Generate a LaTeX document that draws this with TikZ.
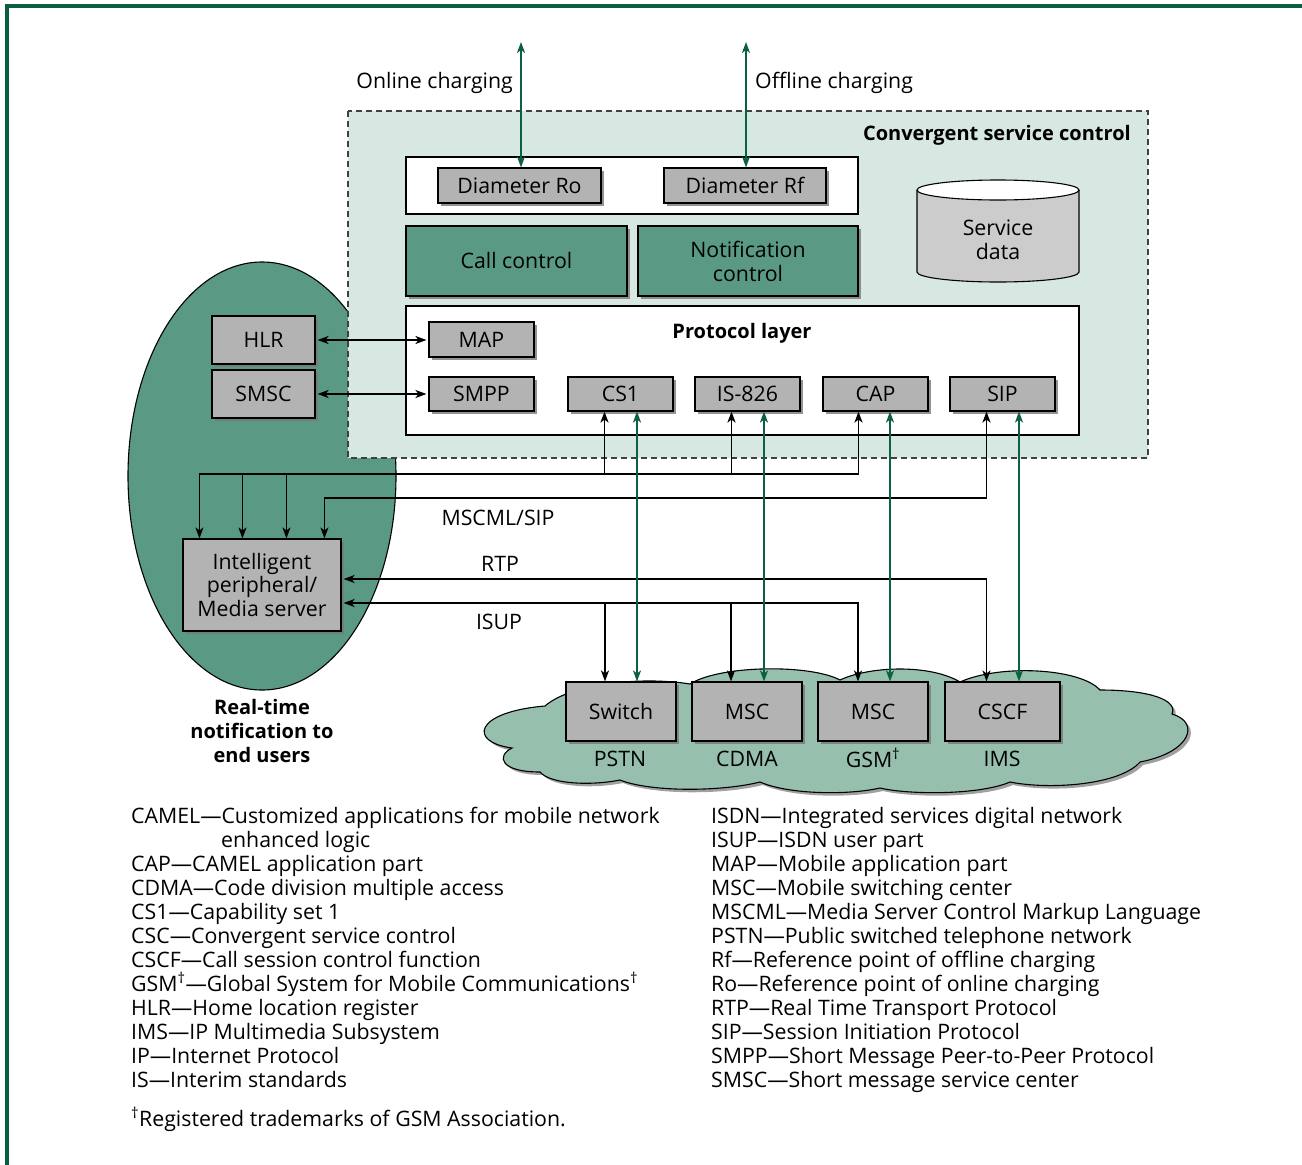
\documentclass[tikz,border=0pt]{standalone}
\usepackage{fontspec}
\setmainfont{Open Sans}
\usetikzlibrary{arrows.meta,shadows,calc}
\definecolor{bordergreen}{RGB}{12,94,64}
\definecolor{arrgreen}{RGB}{10,96,64}
\definecolor{cscfill}{RGB}{215,231,225}
\definecolor{midgreen}{RGB}{90,154,132}
\definecolor{boxgray}{RGB}{179,179,179}
\definecolor{cylgray}{RGB}{204,204,204}
\definecolor{cloudfill}{RGB}{150,191,174}
\definecolor{shadowgray}{RGB}{120,120,120}
\newcommand\fsz{\fontsize{21.3}{24}\selectfont}
\newcommand\fszb{\fontsize{20}{24}\selectfont\bfseries}
\newcommand\fszl{\fontsize{21.3}{24}\selectfont}
\newcommand\myCloudPath{(545,706) .. controls (570,684) and (640,676) .. (690,684)
 .. controls (720,665) and (810,664) .. (840,680)
 .. controls (870,666) and (930,664) .. (960,682)
 .. controls (1000,664) and (1080,668) .. (1100,690)
 .. controls (1150,690) and (1178,700) .. (1172,714)
 .. controls (1200,722) and (1192,752) .. (1140,762)
 .. controls (1120,785) and (1050,790) .. (1010,782)
 .. controls (980,795) and (910,795) .. (880,788)
 .. controls (850,795) and (790,795) .. (760,782)
 .. controls (720,792) and (650,792) .. (620,780)
 .. controls (590,786) and (550,784) .. (540,772)
 .. controls (500,772) and (496,756) .. (512,748)
 .. controls (468,742) and (474,712) .. cycle}
\tikzset{
  myTip/.tip={Stealth[length=11pt,width=8pt,inset=3pt]},
  gbox/.style={draw, line width=1.1pt, fill=boxgray, font=\fsz, inner sep=1pt,
    drop shadow={shadow xshift=3pt, shadow yshift=-3pt, fill=shadowgray, opacity=0.8}},
  mbox/.style={gbox, fill=midgreen},
  blk/.style={line width=1.8pt, black},
  grn/.style={line width=1.8pt, arrgreen},
  lbl/.style={font=\fsz, inner sep=0pt},
}
\begin{document}
\begin{tikzpicture}[x=1pt,y=-1pt]
\useasboundingbox (0,0) rectangle (1302,1165);
% frame
\draw[bordergreen, line width=3.5pt] (7,1165) -- (7,6) -- (1302,6);
% real-time ellipse
\draw[line width=1.1pt, fill=midgreen] (262,476) ellipse [x radius=134, y radius=214];
% convergent service control area
\draw[line width=1.3pt, dash pattern=on 6pt off 4pt, draw=black!75, fill=cscfill] (348,111) rectangle (1148,458);
\node[font=\fszb, anchor=east, inner sep=0pt] (csclbl) at (1131,135) {Convergent service control};
% diameter white box
\draw[line width=1.1pt, fill=white] (406,157) rectangle (858,214);
\node[gbox, minimum width=163pt, minimum height=35pt] (ro) at (519.5,185.5) {Diameter Ro};
\node[gbox, minimum width=162pt, minimum height=35pt] (rf) at (745,185.5) {Diameter Rf};
% call / notification
\node[mbox, minimum width=221pt, minimum height=70pt] (cc) at (516.5,261) {Call control};
\node[mbox, minimum width=220pt, minimum height=70pt, align=center] (nc) at (748,261) {Notification\\control};
% service data cylinder
\fill[cylgray] (917,190) -- (917,272) arc[start angle=180, end angle=0, x radius=81, y radius=10] -- (1079,190) -- cycle;
\draw[line width=1.1pt] (917,190) -- (917,272) arc[start angle=180, end angle=0, x radius=81, y radius=10] -- (1079,190);
\draw[line width=1.1pt, fill=white] (998,190) ellipse [x radius=81, y radius=10];
\node[font=\fsz, align=center] (sd) at (998,240) {Service\\data};
% protocol layer
\draw[line width=1.1pt, fill=white] (406,306) rectangle (1079,435);
\node[font=\fszb, inner sep=0pt] (pl) at (742,333) {Protocol layer};
\node[gbox, minimum width=105pt, minimum height=35pt] (map) at (481.5,339.5) {MAP};
\node[gbox, minimum width=105pt, minimum height=34pt] (smpp) at (481.5,394) {SMPP};
\node[gbox, minimum width=105pt, minimum height=34pt] (cs1) at (620.5,394) {CS1};
\node[gbox, minimum width=105pt, minimum height=34pt] (is) at (747.5,394) {IS-826};
\node[gbox, minimum width=105pt, minimum height=34pt] (cap) at (875.5,394) {CAP};
\node[gbox, minimum width=105pt, minimum height=34pt] (sip) at (1002.5,394) {SIP};
% HLR / SMSC
\node[gbox, minimum width=103pt, minimum height=48pt] (hlr) at (263.5,340) {HLR};
\node[gbox, minimum width=103pt, minimum height=48pt] (smsc) at (263.5,394) {SMSC};
\draw[blk, myTip-myTip] ([xshift=2pt]hlr.east) -- ([xshift=-2pt]hlr.east -| map.west);
\draw[blk, myTip-myTip] ([xshift=2pt]smsc.east) -- ([xshift=-2pt]smsc.east -| smpp.west);
% intelligent peripheral
\node[gbox, minimum width=158pt, minimum height=92pt, align=center, font=\fontsize{21.3}{23.5}\selectfont] (ip) at (262,585) {Intelligent\\peripheral/\\Media server};
% cloud
\fill[shadowgray, opacity=0.7] [xshift=3pt, yshift=-3pt] \myCloudPath;
\draw[line width=1.1pt, fill=cloudfill] \myCloudPath;
\node[gbox, minimum width=110pt, minimum height=59pt] (sw) at (621,711.5) {Switch};
\node[gbox, minimum width=110pt, minimum height=59pt] (msc1) at (747,711.5) {MSC};
\node[gbox, minimum width=110pt, minimum height=59pt] (msc2) at (873,711.5) {MSC};
\node[gbox, minimum width=115pt, minimum height=59pt] (cscf) at (1002.5,711.5) {CSCF};
\node[lbl] (pstn) at (620,759) {PSTN};
\node[lbl] (cdma) at (747,759) {CDMA};
\node[lbl] (gsm) at (873,758) {GSM\textsuperscript{†}};
\node[lbl] (ims) at (1002,759) {IMS};
% helper coordinates
\coordinate (busy) at (0,474);
\coordinate (sipy) at (0,498);
\coordinate (rtpy) at (0,579);
\coordinate (isupy) at (0,603);
\coordinate (onl) at (521,42);
\coordinate (offl) at (746,42);
% charging arrows
\draw[grn, myTip-myTip] (onl) -- (onl |- ro.north);
\draw[grn, myTip-myTip] (offl) -- (offl |- rf.north);
\node[lbl, anchor=east] (onlbl) at (513,83) {Online charging};
\node[lbl, anchor=west] (offlbl) at (755,83) {Offline charging};
% black signalling bus
\draw[blk, myTip-myTip] ([xshift=-17pt]cap.south) -- ([xshift=-17pt]cap.south |- busy) -- ([xshift=17pt]ip.north west |- busy) -- ([xshift=17pt]ip.north west);
\draw[blk, myTip-] ([xshift=-16pt]cs1.south) -- ([xshift=-16pt]cs1.south |- busy);
\draw[blk, myTip-] ([xshift=-16pt]is.south) -- ([xshift=-16pt]is.south |- busy);
\draw[blk, -myTip] ([xshift=60pt]ip.north west |- busy) -- ([xshift=60pt]ip.north west);
\draw[blk, -myTip] ([xshift=104pt]ip.north west |- busy) -- ([xshift=104pt]ip.north west);
\draw[blk, myTip-myTip] ([xshift=-16pt]sip.south) -- ([xshift=-16pt]sip.south |- sipy) -- ([xshift=142pt]ip.north west |- sipy) -- ([xshift=142pt]ip.north west);
% RTP and ISUP
\draw[blk, myTip-myTip] ([xshift=-16pt]cscf.north) -- ([xshift=-16pt]cscf.north |- rtpy) -- ([xshift=2pt]ip.east |- rtpy);
\draw[blk, myTip-myTip] ([xshift=-15pt]msc2.north) -- ([xshift=-15pt]msc2.north |- isupy) -- ([xshift=2pt]ip.east |- isupy);
\draw[blk, -myTip] ([xshift=-16pt]sw.north |- isupy) -- ([xshift=-16pt]sw.north);
\draw[blk, -myTip] ([xshift=-16pt]msc1.north |- isupy) -- ([xshift=-16pt]msc1.north);
% green bearer arrows
\draw[grn, myTip-myTip] ([xshift=16.5pt]cs1.south) -- ([xshift=16.5pt]cs1.south |- sw.north);
\draw[grn, myTip-myTip] ([xshift=16.5pt]is.south) -- ([xshift=16.5pt]is.south |- msc1.north);
\draw[grn, myTip-myTip] ([xshift=14.5pt]cap.south) -- ([xshift=14.5pt]cap.south |- msc2.north);
\draw[grn, myTip-myTip] ([xshift=16.5pt]sip.south) -- ([xshift=16.5pt]sip.south |- cscf.north);
\node[lbl] (mscml) at (498,518) {MSCML/SIP};
\node[lbl] (rtp) at (500,564) {RTP};
\node[lbl] (isup) at (499,622) {ISUP};
% real-time label
\node[font=\fontsize{20}{24}\selectfont\bfseries, align=center] (rt) at (262,731) {Real-time\\notification to\\end users};
% legend
\foreach \t [count=\i from 0] in {{CAMEL—Customized applications for mobile network},{},{CAP—CAMEL application part},{CDMA—Code division multiple access},{CS1—Capability set 1},{CSC—Convergent service control},{CSCF—Call session control function},{GSM\textsuperscript{†}—Global System for Mobile Communications\textsuperscript{†}},{HLR—Home location register},{IMS—IP Multimedia Subsystem},{IP—Internet Protocol},{IS—Interim standards}}
  \node[font=\fszl, anchor=base west, inner sep=0pt] (legl\i) at (131,823+24*\i) {\t};
\node[font=\fszl, anchor=base west, inner sep=0pt] (legind) at (221,847) {enhanced logic};
\foreach \t [count=\i from 0] in {{ISDN—Integrated services digital network},{ISUP—ISDN user part},{MAP—Mobile application part},{MSC—Mobile switching center},{MSCML—Media Server Control Markup Language},{PSTN—Public switched telephone network},{Rf—Reference point of offline charging},{Ro—Reference point of online charging},{RTP—Real Time Transport Protocol},{SIP—Session Initiation Protocol},{SMPP—Short Message Peer-to-Peer Protocol},{SMSC—Short message service center}}
  \node[font=\fszl, anchor=base west, inner sep=0pt] (legr\i) at (711,823+24*\i) {\t};
\node[font=\fszl, anchor=base west, inner sep=0pt] (foot) at (131,1126) {\textsuperscript{†}Registered trademarks of GSM Association.};
\end{tikzpicture}
\end{document}
